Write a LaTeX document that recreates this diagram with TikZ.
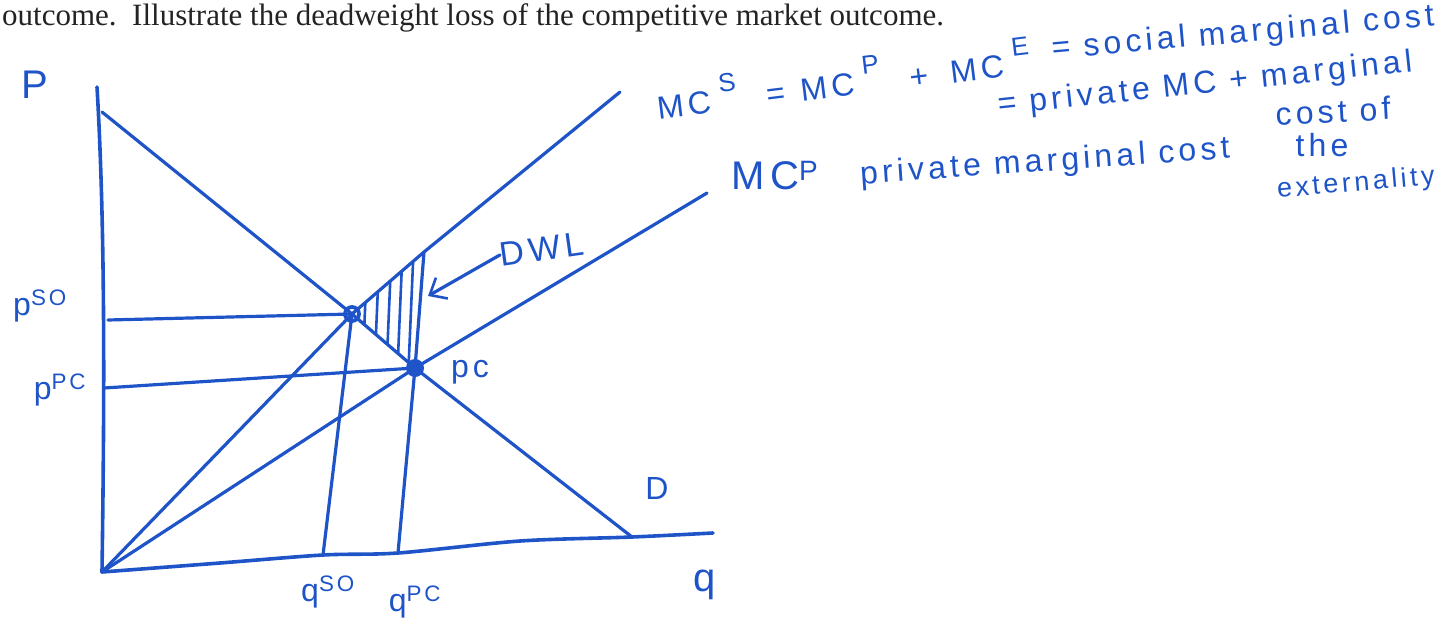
\documentclass[tikz,border=0pt]{standalone}
\usepackage{fontspec}
\setmainfont{Liberation Serif}
\newfontfamily\handfont[LetterSpace=13]{Liberation Sans}
\usetikzlibrary{arrows.meta,positioning}
\definecolor{pen}{RGB}{30,84,200}
\definecolor{ink}{RGB}{35,35,35}
% raised, nearly full-size index as the pen writes it
\newcommand{\penidx}[1]{\hspace{0.3em}\raisebox{0.6em}{\fontsize{26}{28}\selectfont #1}}

\begin{document}
\begin{tikzpicture}[x=1pt, y=-1pt,
  hand/.style={text=pen, inner sep=0pt, font=\handfont\fontsize{32}{36}\selectfont},
  small/.style={hand, font=\handfont\fontsize{27}{30}\selectfont},
  big/.style={hand, font=\handfont\fontsize{40}{44}\selectfont},
  ax/.style={draw=pen, line width=3.6pt, line cap=round, line join=round},
  ln/.style={draw=pen, line width=3.2pt, line cap=round, line join=round},
  ar/.style={ln, -{Straight Barb[length=14pt,width=24pt,line width=2.6pt]}}]
\useasboundingbox (0,0) rectangle (1438,629);

% --- printed question line
\node[anchor=base west, inner sep=0pt, text=ink, font=\fontsize{31}{36}\selectfont] (task) at (2,25)
  {outcome.\ \ Illustrate the deadweight loss of the competitive market outcome.};

% --- key points
\coordinate (O) at (102,572);
\coordinate (yTop) at (97,87);
\coordinate (xEnd) at (713,533);
\coordinate (SO) at (352,314);
\coordinate (PC) at (415,368);
\coordinate (dStart) at (102,112);
\coordinate (dEnd) at (632,537);
\coordinate (mcsEnd) at (620,92);
\coordinate (mcpEnd) at (707,193);
\coordinate (dwlTop) at (424,252);
\coordinate (dwlTip) at (428,296);
\coordinate (qso) at (323,555);
\coordinate (qpc) at (398,553);
\coordinate (pso) at (108,320);
\coordinate (ppc) at (104,388);

% --- axes
\draw[ax] (yTop) .. controls (106,240) and (104,430) .. (O);
\draw[ax] plot[smooth, tension=0.5] coordinates {(O) (220,563) (qso) (qpc) (520,541) (dEnd) (xEnd)};

% --- curves
\draw[ln] (dStart) -- (SO) -- (PC) -- (dEnd);
\draw[ln] (O) -- (SO) -- (dwlTop) -- (mcsEnd);
\draw[ln] (O) -- (PC) -- (mcpEnd);

% --- price and quantity lines
\draw[ln] (pso) -- (SO);
\draw[ln] (ppc) -- (PC);
\draw[ln] (SO) -- (qso);
\draw[ln] (dwlTop) -- (PC) -- (qpc);

% --- DWL hatching
\begin{scope}
  \clip (SO) -- (dwlTop) -- (PC) -- cycle;
  \foreach \hx in {368,380,392,403,414}
    \draw[ln, line width=2.6pt] (\hx,240) -- ({\hx-6},380);
\end{scope}

% --- equilibrium marks
\draw[ln, line width=3.8pt] (SO) circle[radius=7];
\fill[pen] (PC) circle[radius=9];

% --- axis and point labels
\node[big] (lblP) at (35,85) {P};
\node[hand] (lblpso) at (40,306) {p\textsuperscript{SO}};
\node[hand] (lblppc) at (60,390) {p\textsuperscript{PC}};
\node[hand] (lblpc) at (470,372) {pc};
\node[hand] (lblqso) at (328,592) {q\textsuperscript{SO}};
\node[hand] (lblqpc) at (415,602) {q\textsuperscript{PC}};
\node[big] (lblq) at (705,585) {q};
\node[hand] (lblD) at (657,488) {D};
\node[hand, font=\handfont\fontsize{34}{38}\selectfont, rotate=8] (lbldwl) at (542,249) {DWL};
\draw[ar] (lbldwl.west) -- (dwlTip);

% --- notes on the cost curves
\node[hand, rotate=7] (mcsnote) at (843,78)
  {MC\penidx{S}\hspace{0.9em}=\hspace{0.5em}MC\penidx{P}\hspace{0.9em}+\hspace{0.7em}MC\penidx{E}};
\node[hand, rotate=5] (socnote) at (1243,34) {= social marginal cost};
\node[hand, rotate=6] (privnote) at (1205,85) {= private MC + marginal};
\node[hand, rotate=3] (costof) at (1333,111) {cost of};
\node[big] (mcplbl) at (775,176) {MC\textsuperscript{P}};
\node[hand, rotate=4] (privmc) at (1045,163) {private marginal cost};
\node[hand] (the) at (1322,145) {the};
\node[small, rotate=5] (extern) at (1356,184) {externality};
\end{tikzpicture}
\end{document}
